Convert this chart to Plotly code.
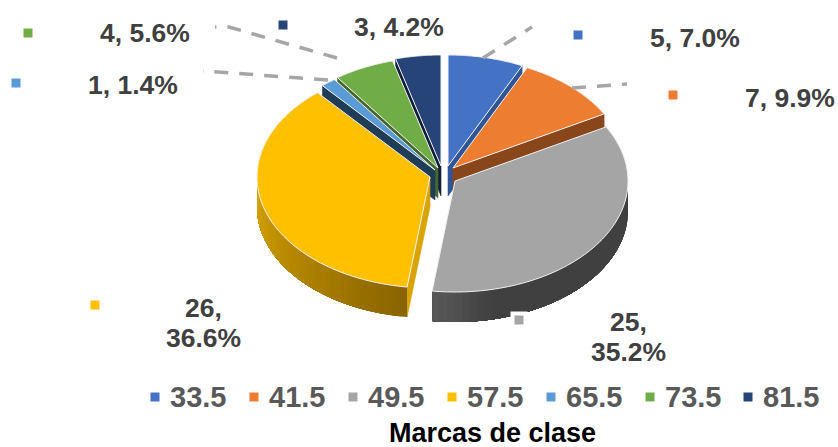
import numpy as np
import plotly.graph_objects as go

# data
classes = ["33.5", "41.5", "49.5", "57.5", "65.5", "73.5", "81.5"]
counts = [5, 7, 25, 26, 1, 4, 3]

colors = ["#4472C4", "#ED7D31", "#A5A5A5", "#FFC000", "#5B9BD5", "#70AD47", "#264478"]
face_colors = ["#2F5597", "#8A461B", "#404040", "#D9A300", "#1F3D56", "#46682C", "#10203A"]

# look of the tilted pie, one apex per exploded slice (pixels)
apex_x = [448, 453, 455, 430, 435, 438, 441]
apex_y = [166, 168, 181, 177, 170, 168, 166]
RX, RY, DEPTH = 173, 111, 30
draw_order = [6, 5, 4, 0, 1, 3, 2]

# wall shading: colour at the lowest angle, colour at the highest, where the ramp starts (0-1)
wall_shade = {
    2: ((64, 64, 64), (88, 88, 88), 0.8),
    3: ((138, 100, 0), (216, 164, 0), 0.0),
}

legend_x = [155, 254, 353, 452, 551, 650, 748]
label_box = {
    0: (695, 38, 578, 35), 1: (790, 98, 673, 95), 2: (628, 322, 519, 320),
    3: (203, 308, 95, 305), 4: (133, 85, 16, 83), 5: (145, 33, 28, 33), 6: (399, 27, 283, 25),
}
leaders = [
    ([483, 532], [58, 27]),
    ([572, 627], [88, 84]),
    ([337, 229, 215], [58, 27, 27]),
    ([328, 203], [80, 71]),
]

total = sum(counts)
edges = np.concatenate([[0], np.cumsum(counts)]) / total * 360

fig = go.Figure()


def add_poly(xs, ys, fill, line=None, width=0.6):
    fig.add_trace(go.Scatter(
        x=xs, y=ys, mode="lines", fill="toself", fillcolor=fill,
        line=dict(color=line or fill, width=width, simplify=False), hoverinfo="skip",
    ))


def rim(i, a0, a1, n=80, drop=0):
    t = np.radians(np.linspace(a0, a1, n))
    return apex_x[i] + RX * np.sin(t), apex_y[i] - RY * np.cos(t) + drop


def radial_face(i, a):
    t = np.radians(a)
    ox, oy = apex_x[i] + RX * np.sin(t), apex_y[i] - RY * np.cos(t)
    ax, ay = apex_x[i], apex_y[i]
    add_poly([ax, ox, ox, ax, ax], [ay, oy, oy + DEPTH, ay + DEPTH, ay], face_colors[i])


for i in draw_order:
    a0, a1 = edges[i], edges[i + 1]

    # cut faces that look towards the viewer
    if 0 < a1 < 180:
        radial_face(i, a1)
    if a0 > 180:
        radial_face(i, a0)
    if a0 < 180 < a1:
        radial_face(i, a0)

    # outer wall, each strip runs on to the end of the wall so no seams show
    w0, w1 = max(a0, 90), min(a1, 270)
    if w0 < w1:
        steps = np.linspace(w0, w1, 40)
        low, high, start = wall_shade[i]
        for k in range(len(steps) - 1):
            f = max(0, (k / (len(steps) - 2) - start) / (1 - start))
            c = [round(low[j] + (high[j] - low[j]) * f) for j in range(3)]
            tx, ty = rim(i, steps[k], w1)
            bx, by = rim(i, w1, steps[k], drop=DEPTH)
            add_poly(np.r_[tx, bx, tx[0]], np.r_[ty, by, ty[0]], f"rgb({c[0]},{c[1]},{c[2]})", width=0)

    # top of the slice
    tx, ty = rim(i, a0, a1)
    add_poly(np.r_[apex_x[i], tx, apex_x[i]], np.r_[apex_y[i], ty, apex_y[i]], colors[i],
             line="#F2F2F2", width=1)

# leader lines
for lx, ly in leaders:
    fig.add_trace(go.Scatter(x=lx, y=ly, mode="lines", hoverinfo="skip",
                             line=dict(color="#A6A6A6", width=3.5, dash="14px,11px")))

annotations = []


def add_text(x, y, text, color="#404040", anchor="center", size=26.5):
    annotations.append(dict(
        x=x, y=y, xref="x", yref="y", text=f"<b>{text}</b>", showarrow=False,
        xanchor=anchor, yanchor="middle",
        font=dict(family="Liberation Sans", size=size, color=color),
    ))


# data labels and their little keys
fig.add_trace(go.Scatter(x=[label_box[2][2]], y=[label_box[2][3]], mode="markers", hoverinfo="skip",
                         marker=dict(symbol="square", size=17, color="white")))
for i, box in label_box.items():
    pct = counts[i] / total * 100
    if i in (2, 3):
        add_text(box[0], box[1], f"{counts[i]},")
        add_text(box[0], box[1] + 30, f"{pct:.1f}%")
    else:
        add_text(box[0], box[1], f"{counts[i]}, {pct:.1f}%")
    fig.add_trace(go.Scatter(x=[box[2]], y=[box[3]], mode="markers", hoverinfo="skip",
                             marker=dict(symbol="square", size=9, color=colors[i])))

# legend along the bottom
for i, name in enumerate(classes):
    fig.add_trace(go.Scatter(x=[legend_x[i]], y=[397], mode="markers", hoverinfo="skip",
                             marker=dict(symbol="square", size=9, color=colors[i])))
    add_text(legend_x[i] + 13, 397, name, color="#595959", anchor="left", size=29)

add_text(492, 433, "Marcas de clase", color="#000000", size=27)

fig.update_layout(
    width=838, height=447,
    margin=dict(l=0, r=0, t=0, b=0),
    paper_bgcolor="white", plot_bgcolor="white",
    showlegend=False,
    annotations=annotations,
    xaxis=dict(range=[0, 838], visible=False, fixedrange=True),
    yaxis=dict(range=[447, 0], visible=False, fixedrange=True),
)

fig.write_html("out.html", config=dict(displayModeBar=False),
               post_script="document.body.style.margin='0';")
